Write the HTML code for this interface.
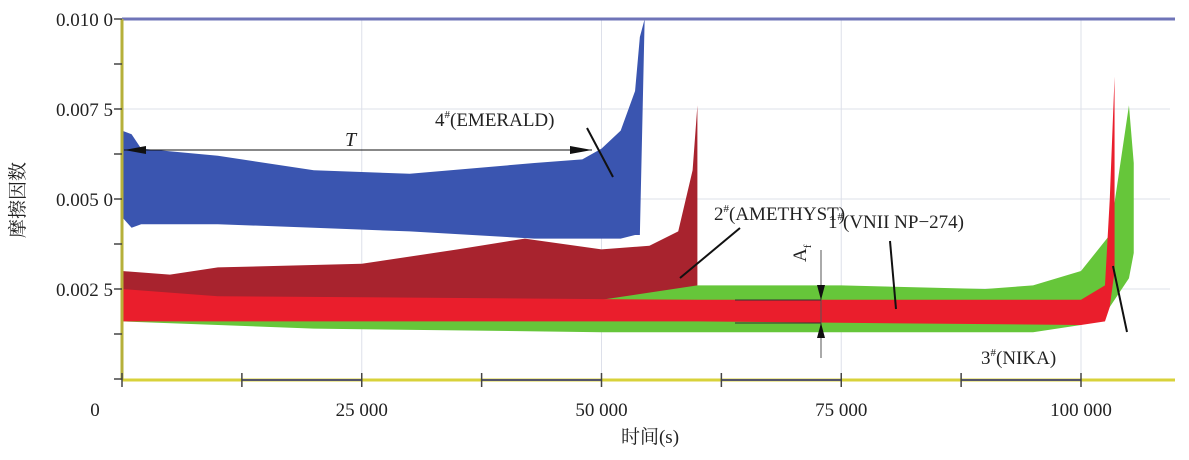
<!DOCTYPE html>
<html><head><meta charset="utf-8"><style>
body{margin:0;background:#fff;}
svg text{font-family:"Liberation Serif","Noto Serif CJK SC",serif;fill:#222;}
</style></head><body>
<svg id="chart" width="1189" height="455" viewBox="0 0 1189 455" xmlns="http://www.w3.org/2000/svg">
<g id="grid"></g>
<g id="bands"></g>
<g id="axes"></g>
<g id="annot">
<line x1="124" y1="150" x2="592" y2="150" stroke="#111" stroke-width="1"/>
<polygon points="124,150 146,146 146,154" fill="#111"/>
<polygon points="592,150 570,146 570,154" fill="#111"/>
<text x="345" y="146" font-size="20" font-style="italic">T</text>
<text x="435" y="126" font-size="19">4<tspan font-size="11" dy="-8">#</tspan><tspan dy="8">(EMERALD)</tspan></text>
<line x1="587" y1="128" x2="613" y2="177" stroke="#111" stroke-width="2"/>
<text x="714" y="220" font-size="19">2<tspan font-size="11" dy="-8">#</tspan><tspan dy="8">(AMETHYST)</tspan></text>
<line x1="740" y1="228" x2="680" y2="278" stroke="#111" stroke-width="2"/>
<text x="828" y="228" font-size="19">1<tspan font-size="11" dy="-8">#</tspan><tspan dy="8">(VNII NP−274)</tspan></text>
<line x1="890" y1="241" x2="896" y2="309" stroke="#111" stroke-width="2"/>
<text x="981" y="364" font-size="19">3<tspan font-size="11" dy="-8">#</tspan><tspan dy="8">(NIKA)</tspan></text>
<line x1="1113" y1="266" x2="1127" y2="332" stroke="#111" stroke-width="2"/>
<line x1="821" y1="250" x2="821" y2="358" stroke="#555" stroke-width="1"/>
<polygon points="821,300 817,285 825,285" fill="#111"/>
<polygon points="821,323 817,338 825,338" fill="#111"/>
<line x1="735" y1="300" x2="821" y2="300" stroke="#333" stroke-width="1"/>
<line x1="735" y1="323" x2="821" y2="323" stroke="#333" stroke-width="1"/>
<text transform="translate(806,262) rotate(-90)" font-size="19">A<tspan font-size="11" dy="5">f</tspan></text>
</g>
</svg>
<script>
const xTicks=[0,25000,50000,75000,100000];
const xTickLabels=["0","25 000","50 000","75 000","100 000"];
const yTicks=[0,0.0025,0.005,0.0075,0.01];
const yTickLabels=["","0.002 5","0.005 0","0.007 5","0.010 0"];
const seriesNames=["2#(AMETHYST)","4#(EMERALD)","3#(NIKA)","1#(VNII NP-274)"];
const seriesColors=["#a8232e","#3a55b0","#66c63a","#ea1e2c"];
const amethystX=[0,5000,10000,25000,35000,42000,50000,55000,58000,59500,60000];
const amethystHi=[0.0030,0.0029,0.0031,0.0032,0.0036,0.0039,0.0036,0.0037,0.0041,0.0058,0.0076];
const amethystLo=[0.0020,0.0020,0.0020,0.0020,0.0020,0.0020,0.0020,0.0020,0.0020,0.0020,0.0020];
const emeraldX=[0,1000,2000,10000,20000,30000,43000,48000,50000,52000,53500,54000,54500];
const emeraldHi=[0.0069,0.0068,0.0064,0.0062,0.0058,0.0057,0.0060,0.0061,0.0064,0.0069,0.0080,0.0095,0.0100];
const emeraldLo=[0.0045,0.0042,0.0043,0.0043,0.0042,0.0041,0.0039,0.0039,0.0039,0.0039,0.0040,0.0040,0.0100];
const nikaX=[0,20000,50000,60000,75000,90000,95000,100000,103000,105000,105500];
const nikaHi=[0.0022,0.0022,0.0022,0.0026,0.0026,0.0025,0.0026,0.0030,0.0040,0.0076,0.0060];
const nikaLo=[0.0016,0.0014,0.0013,0.0013,0.0013,0.0013,0.0013,0.0015,0.0020,0.0028,0.0035];
const vniiX=[0,10000,60000,100000,102500,103000,103500];
const vniiHi=[0.0025,0.0023,0.0022,0.0022,0.0026,0.0050,0.0084];
const vniiLo=[0.0016,0.0016,0.0016,0.0015,0.0016,0.0020,0.0030];

const X0=122,XPX=9.59/1000,Y0=379,YPX=36000;
const sx=v=>X0+v*XPX;
const sy=v=>Y0-v*YPX;
const NS="http://www.w3.org/2000/svg";
function mk(tag,attrs,parent){const e=document.createElementNS(NS,tag);for(const k in attrs)e.setAttribute(k,attrs[k]);parent.appendChild(e);return e;}
const grid=document.getElementById('grid'),bands=document.getElementById('bands'),axes=document.getElementById('axes');
xTicks.forEach(t=>{if(t>0){const l=mk('line',{x1:sx(t),x2:sx(t),y1:sy(0.01),y2:Y0,stroke:'#dde0ea','stroke-width':1},grid);

}});
yTicks.forEach(t=>{if(t>0&&t<0.01){const l=mk('line',{x1:X0,x2:1170,y1:sy(t),y2:sy(t),stroke:'#dde0ea','stroke-width':1},grid);

}});
function band(xs,hi,lo,color,name){
  let pts=xs.map((x,i)=>sx(x)+','+sy(hi[i]));
  for(let i=xs.length-1;i>=0;i--)pts.push(sx(xs[i])+','+sy(lo[i]));
  const p=mk('polygon',{points:pts.join(' '),fill:color},bands);
  
  
}
band(amethystX,amethystHi,amethystLo,seriesColors[0],'band-amethyst');
band(emeraldX,emeraldHi,emeraldLo,seriesColors[1],'band-emerald');
band(nikaX,nikaHi,nikaLo,seriesColors[2],'band-nika');
band(vniiX,vniiHi,vniiLo,seriesColors[3],'band-vnii');
// axes
let a=mk('line',{x1:X0,x2:1175,y1:sy(0.01),y2:sy(0.01),stroke:'#6f74b8','stroke-width':3},axes);


a=mk('line',{x1:X0,x2:1175,y1:Y0+1,y2:Y0+1,stroke:'#d8d23a','stroke-width':3},axes);


a=mk('line',{x1:X0,x2:X0,y1:sy(0.01),y2:Y0+1,stroke:'#b6b03a','stroke-width':3},axes);


[[12500,25000],[37500,50000],[62500,75000],[87500,100000]].forEach(s=>{
  const l=mk('line',{x1:sx(s[0]),x2:sx(s[1]),y1:Y0+1,y2:Y0+1,stroke:'#55556a','stroke-width':2},axes);
  
  
});
for(let t=0;t<=100000;t+=12500){const l=mk('line',{x1:sx(t),x2:sx(t),y1:Y0-6,y2:Y0+8,stroke:'#444','stroke-width':1.5},axes);

}
for(let v=0;v<=0.01;v+=0.00125){const l=mk('line',{x1:X0-8,x2:X0,y1:sy(v),y2:sy(v),stroke:'#444','stroke-width':1.5},axes);

}
xTicks.forEach((t,i)=>{const tx=mk('text',{x:t===0?95:sx(t),y:416,'font-size':19,'text-anchor':'middle'},axes);tx.textContent=xTickLabels[i];

});
yTicks.forEach((t,i)=>{if(!yTickLabels[i])return;const tx=mk('text',{x:113,y:sy(t)+7,'font-size':19,'text-anchor':'end'},axes);tx.textContent=yTickLabels[i];

});
let tt=mk('text',{x:650,y:443,'font-size':19,'text-anchor':'middle'},axes);tt.textContent='时间(s)';


tt=mk('text',{transform:'translate(24,200) rotate(-90)','font-size':19,'text-anchor':'middle'},axes);tt.textContent='摩擦因数';


</script>
</body></html>
